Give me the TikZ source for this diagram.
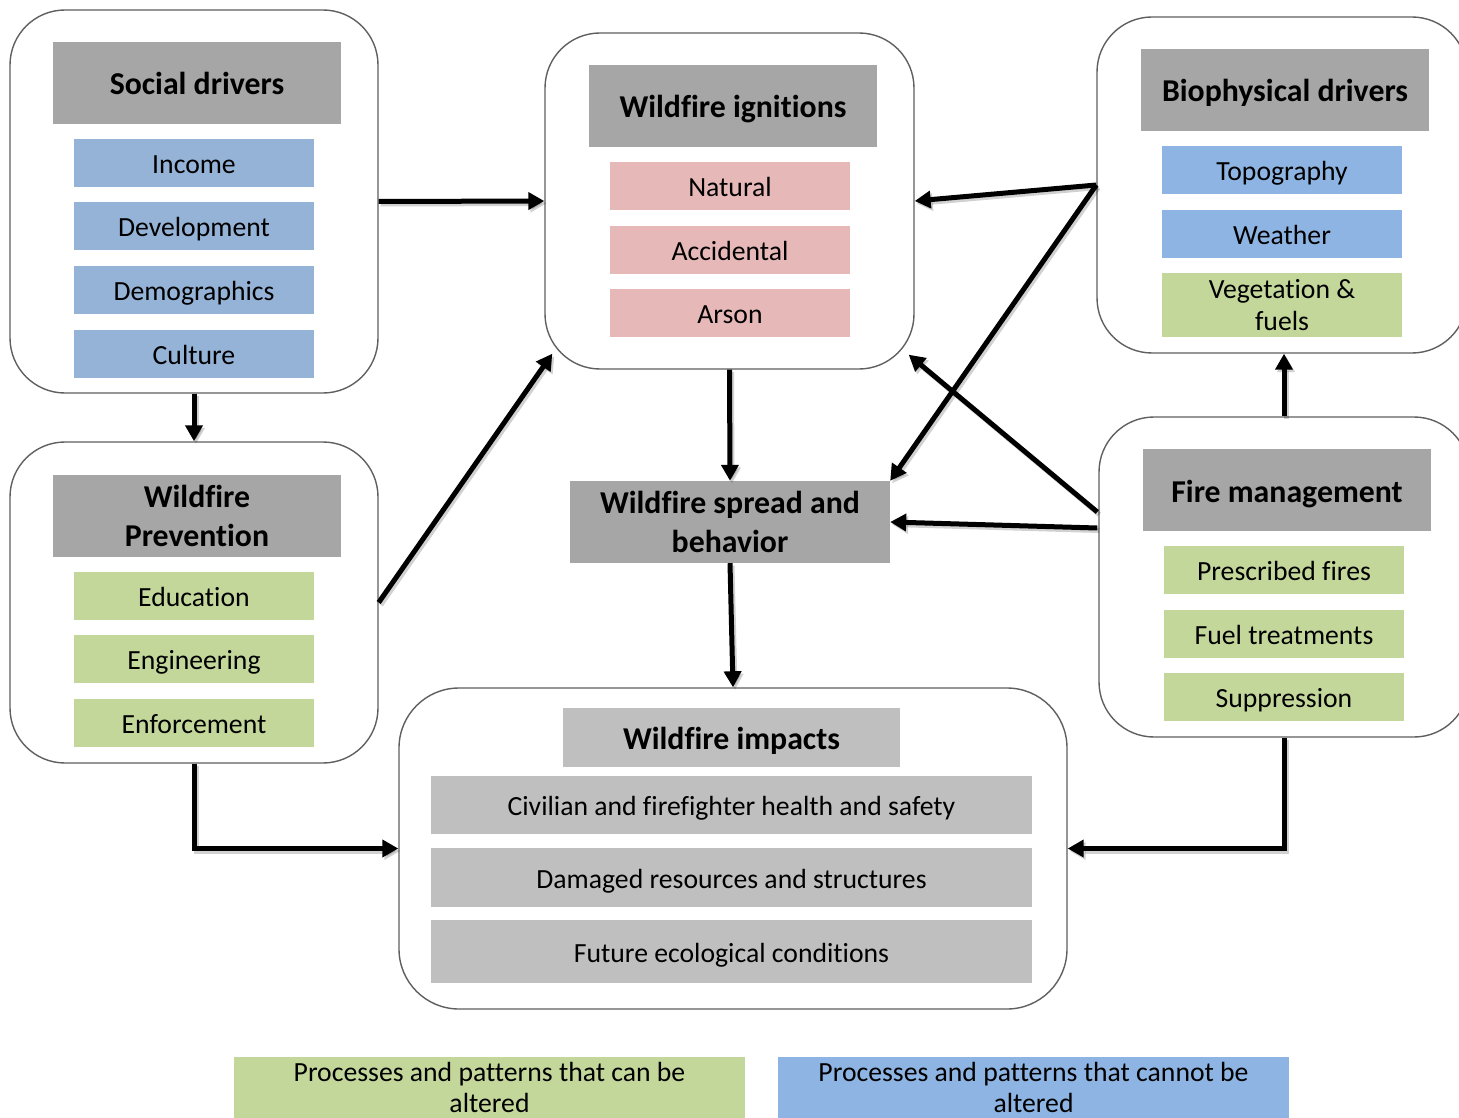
\documentclass[tikz,border=0pt]{standalone}
\usepackage{fontspec}
\setmainfont{Carlito}[Ligatures=NoCommon]
\usetikzlibrary{arrows.meta,calc}

\definecolor{frame}{HTML}{5F5F5F}
\definecolor{hdr}{HTML}{A6A6A6}
\definecolor{hdrlight}{HTML}{BFBFBF}
\definecolor{socblue}{HTML}{95B3D7}
\definecolor{bioblue}{HTML}{8DB4E2}
\definecolor{green}{HTML}{C4D79B}
\definecolor{pink}{HTML}{E6B9B8}

\tikzset{
  panel/.style={rectangle, draw=frame, line width=1.4pt, fill=white,
    rounded corners=55pt, inner sep=0pt},
  header/.style={rectangle, fill=hdr, inner sep=0pt, align=center,
    font=\fontsize{31.8}{39}\selectfont\bfseries},
  item/.style={rectangle, inner sep=0pt, align=center,
    font=\fontsize{27.7}{32.5}\selectfont},
  % single-line labels get a fixed box so every baseline sits alike
  hline/.style={text height=28pt, text depth=4pt},
  iline/.style={text height=24pt, text depth=3pt},
  itemsize/.style={minimum width=240pt, minimum height=48pt, iline},
  legend/.style={item, minimum width=511pt, minimum height=61pt,
    font=\fontsize{27.7}{31}\selectfont},
  tip/.style={-{Triangle[length=16pt,width=17pt]}},
  arr/.style={line width=5pt, tip,
    preaction={draw=black, opacity=0.18, line width=5pt, tip,
      transform canvas={shift={(2pt,-2.5pt)}}}},
}

\begin{document}
\begin{tikzpicture}[x=1pt,y=-1pt]
\useasboundingbox (0,0) rectangle (1459,1118);
\clip (0,0) rectangle (1459,1118);

% Social drivers
\node[panel, minimum width=368pt, minimum height=383pt] (soc) at (194,201.5) {};
\node[header, hline, minimum width=288pt, minimum height=82pt] (soch) at (197,83) {Social drivers};
\node[item, itemsize, fill=socblue] (inc) at (194,163) {Income};
\node[item, itemsize, fill=socblue] (dev) at (194,226) {Development};
\node[item, itemsize, fill=socblue] (dem) at (194,290) {Demographics};
\node[item, itemsize, fill=socblue] (cul) at (194,354) {Culture};

% Wildfire prevention
\node[panel, minimum width=368pt, minimum height=321pt] (prev) at (194,602.5) {};
\node[header, minimum width=288pt, minimum height=82pt] (prevh) at (197,516) {Wildfire\\Prevention};
\node[item, itemsize, fill=green] (edu) at (194,596) {Education};
\node[item, itemsize, fill=green] (eng) at (194,659) {Engineering};
\node[item, itemsize, fill=green] (enf) at (194,723) {Enforcement};

% Wildfire ignitions
\node[panel, minimum width=369pt, minimum height=336pt] (ign) at (729.5,201) {};
\node[header, hline, minimum width=288pt, minimum height=82pt] (ignh) at (733,106) {Wildfire ignitions};
\node[item, itemsize, fill=pink] (nat) at (730,186.5) {Natural};
\node[item, itemsize, fill=pink] (acc) at (730,250) {Accidental};
\node[item, itemsize, fill=pink] (ars) at (730,313) {Arson};

% Biophysical drivers
\node[panel, minimum width=370pt, minimum height=336pt] (bio) at (1282,185) {};
\node[header, hline, minimum width=288pt, minimum height=82pt] (bioh) at (1285,90) {Biophysical drivers};
\node[item, itemsize, fill=bioblue] (top) at (1282,170.5) {Topography};
\node[item, itemsize, fill=bioblue] (wea) at (1282,234) {Weather};
\node[item, minimum width=240pt, minimum height=64pt, fill=green] (veg) at (1282,305) {Vegetation \&\\fuels};

% Fire management
\node[panel, minimum width=370pt, minimum height=320pt] (fire) at (1284,577) {};
\node[header, hline, minimum width=288pt, minimum height=82pt] (fireh) at (1287,490) {Fire management};
\node[item, itemsize, fill=green] (pre) at (1284,570) {Prescribed fires};
\node[item, itemsize, fill=green] (fue) at (1284,634) {Fuel treatments};
\node[item, itemsize, fill=green] (sup) at (1284,697) {Suppression};

% Wildfire spread and behavior
\node[header, minimum width=320pt, minimum height=82pt] (spr) at (730,522) {Wildfire spread and\\behavior};

% Wildfire impacts
\node[panel, rounded corners=60pt, minimum width=668pt, minimum height=321pt] (imp) at (733,848.5) {};
\node[header, hline, fill=hdrlight, minimum width=337pt, minimum height=59pt] (imph) at (731.5,737.5) {Wildfire impacts};
\node[item, iline, fill=hdrlight, minimum width=601pt, minimum height=58pt] (civ) at (731.5,805) {Civilian and firefighter health and safety};
\node[item, iline, fill=hdrlight, minimum width=601pt, minimum height=59pt] (dam) at (731.5,877.5) {Damaged resources and structures};
\node[item, iline, fill=hdrlight, minimum width=601pt, minimum height=63pt] (fut) at (731.5,951.5) {Future ecological conditions};

% Legend
\node[legend, fill=green] (lgA) at (489.5,1087.5) {Processes and patterns that can be\\altered};
\node[legend, fill=bioblue] (lgB) at (1033.5,1087.5) {Processes and patterns that cannot be\\altered};

% Connectors
\draw[arr] (soc.east) -- (ign.west);
\draw[arr] (soc.south) -- (prev.north);
\draw[arr] (prev.east) -- ($(ign.south west)+(8,-16)$);
\draw[arr] (bio.west) -- (ign.east);
\draw[arr] (bio.west) -- (spr.north east);
\draw[arr] ($(fire.west)+(-1,-65)$) -- ($(ign.south east)+(-6,-15)$);
\draw[arr] ($(fire.west)+(-1,-49)$) -- (spr.east);
\draw[arr] (fire.north) -- (fire.north |- bio.south);
\draw[arr] (ign.south) -- (spr.north);
\draw[arr] (spr.south) -- (imp.north);
\draw[arr] (prev.south) |- (imp.west);
\draw[arr] (fire.south) |- (imp.east);
\end{tikzpicture}
\end{document}
